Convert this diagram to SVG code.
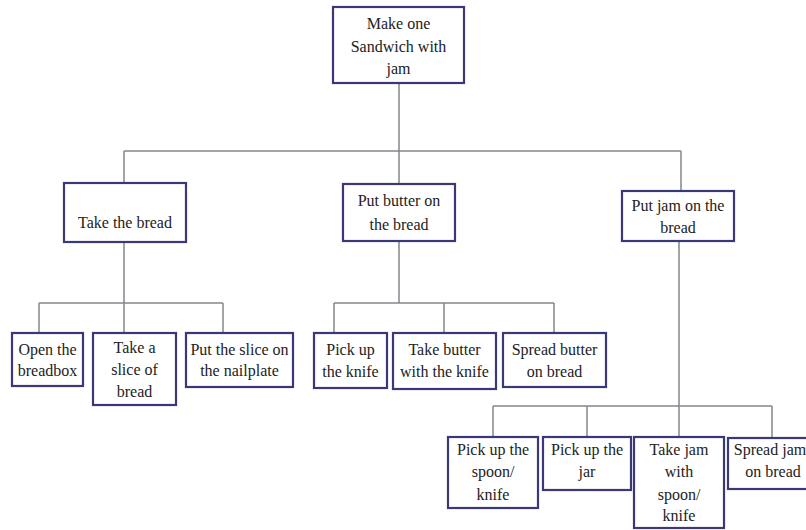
<svg xmlns="http://www.w3.org/2000/svg" width="806" height="530" viewBox="0 0 806 530">
<style>
.box{fill:#ffffff;stroke:#3a3876;stroke-width:2.2}
.t{font-family:"Liberation Serif","Times New Roman",serif;font-size:16px;fill:#222222;text-anchor:middle}
.c{stroke:#85858f;stroke-width:1.5;fill:none}
</style>
<rect width="806" height="530" fill="#ffffff"/>
<g id="connectors">
<path class="c" d="M399 83V151M124 151H681M124 151V183M399 151V184M681 151V191"/>
<path class="c" d="M124 242V333M39 303H223M39 303V333M223 303V333"/>
<path class="c" d="M399 241V303M334 303H554M334 303V333M444 303V333M554 303V333"/>
<path class="c" d="M679 241V437M493 406H772M493 406V437M587 406V437M772 406V438"/>
</g>
<g id="root"><rect class="box" x="333" y="7" width="131" height="76"/>
<text class="t" x="398.5" y="29">Make one</text><text class="t" x="398.5" y="52">Sandwich with</text><text class="t" x="398.5" y="74">jam</text></g>
<g id="take-bread"><rect class="box" x="64" y="183" width="122" height="59"/>
<text class="t" x="125" y="228">Take the bread</text></g>
<g id="put-butter"><rect class="box" x="343" y="184" width="112" height="57"/>
<text class="t" x="399" y="206">Put butter on</text><text class="t" x="399" y="230">the bread</text></g>
<g id="put-jam"><rect class="box" x="622" y="191" width="112" height="50"/>
<text class="t" x="678" y="211">Put jam on the</text><text class="t" x="678" y="233">bread</text></g>
<g id="open-breadbox"><rect class="box" x="12" y="333" width="71" height="53"/>
<text class="t" x="47.5" y="355">Open the</text><text class="t" x="47.5" y="376">breadbox</text></g>
<g id="take-slice"><rect class="box" x="93" y="333" width="83" height="72"/>
<text class="t" x="134.5" y="353">Take a</text><text class="t" x="134.5" y="375">slice of</text><text class="t" x="134.5" y="397">bread</text></g>
<g id="put-slice"><rect class="box" x="186" y="333" width="107" height="54"/>
<text class="t" x="239.5" y="355">Put the slice on</text><text class="t" x="239.5" y="376">the nailplate</text></g>
<g id="pick-knife"><rect class="box" x="314" y="333" width="73" height="55"/>
<text class="t" x="350.5" y="355">Pick up</text><text class="t" x="350.5" y="377">the knife</text></g>
<g id="take-butter"><rect class="box" x="393" y="333" width="103" height="56"/>
<text class="t" x="444.5" y="355">Take butter</text><text class="t" x="444.5" y="377">with the knife</text></g>
<g id="spread-butter"><rect class="box" x="503" y="333" width="103" height="54"/>
<text class="t" x="554.5" y="355">Spread butter</text><text class="t" x="554.5" y="377">on bread</text></g>
<g id="pick-spoon"><rect class="box" x="448" y="437" width="90" height="71"/>
<text class="t" x="493" y="455">Pick up the</text><text class="t" x="493" y="477">spoon/</text><text class="t" x="493" y="500">knife</text></g>
<g id="pick-jar"><rect class="box" x="543" y="437" width="88" height="53"/>
<text class="t" x="587" y="455">Pick up the</text><text class="t" x="587" y="477">jar</text></g>
<g id="take-jam"><rect class="box" x="634" y="437" width="90" height="91"/>
<text class="t" x="679" y="455">Take jam</text><text class="t" x="679" y="477">with</text><text class="t" x="679" y="500">spoon/</text><text class="t" x="679" y="521">knife</text></g>
<g id="spread-jam"><rect class="box" x="728" y="438" width="90" height="51"/>
<text class="t" x="770" y="455">Spread jam</text><text class="t" x="773" y="477">on bread</text></g>
</svg>
